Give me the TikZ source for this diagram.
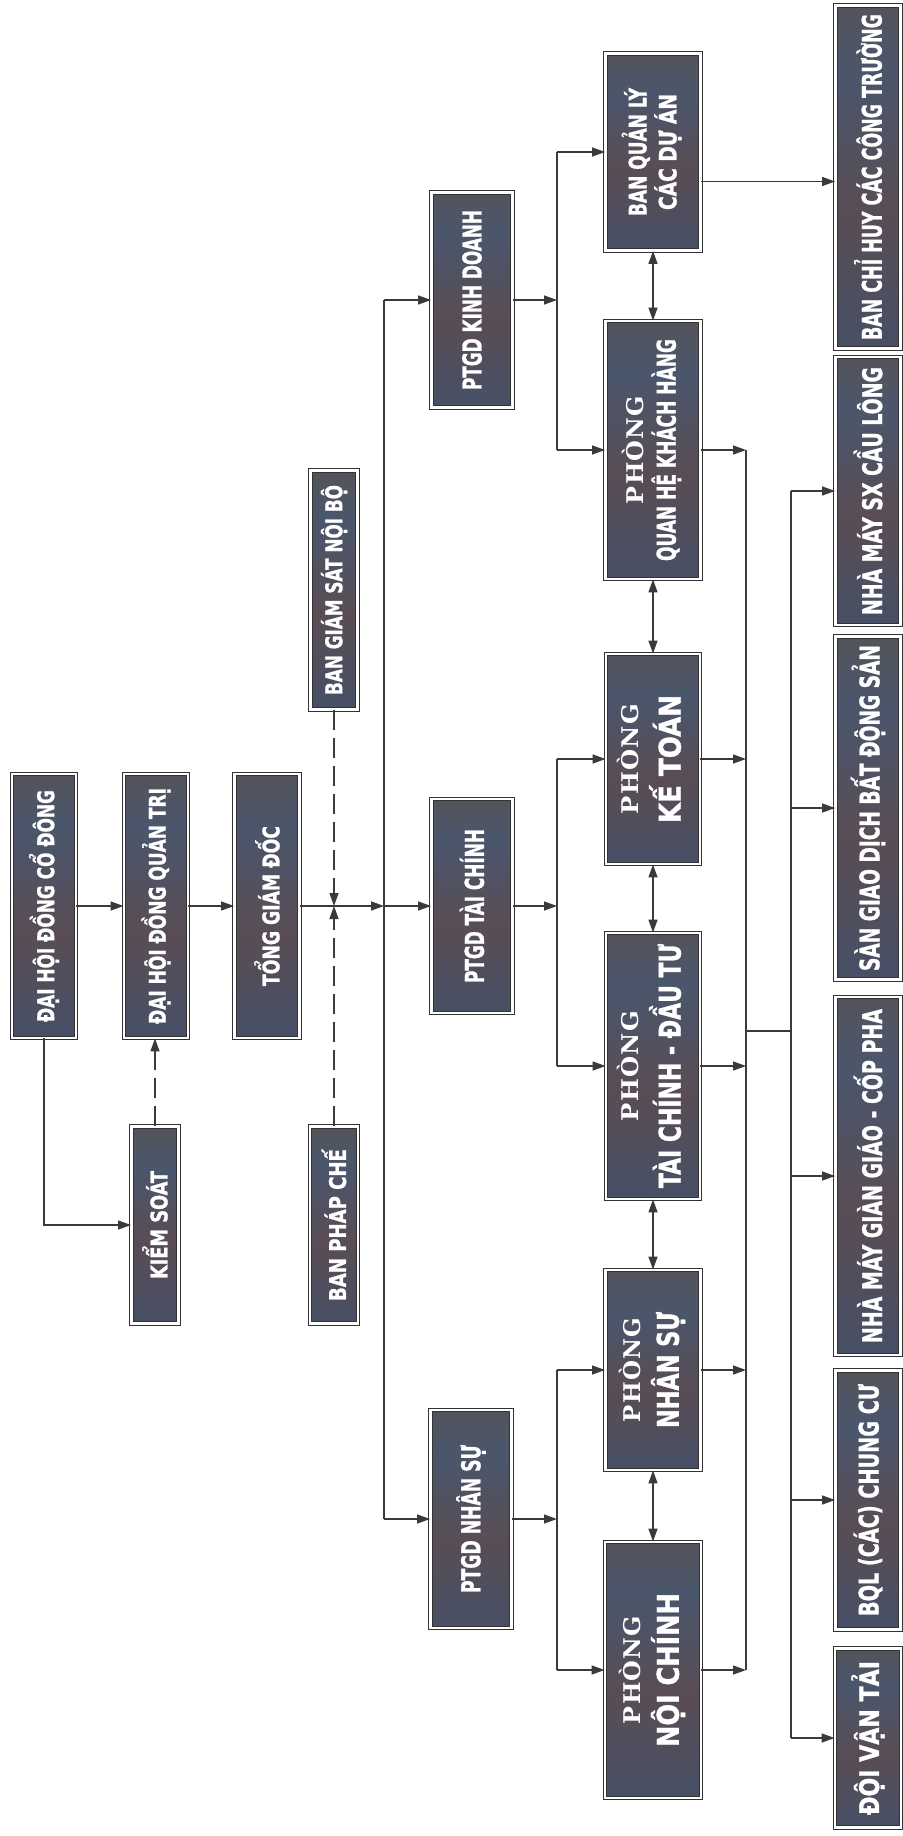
\documentclass[tikz,border=0pt]{standalone}
\usepackage{fontspec}
\usepackage{graphicx}
\usetikzlibrary{arrows.meta}

\newfontfamily\labelfont{DejaVu Sans Condensed Bold}[FakeBold=1.2]
\newfontfamily\phongfont{DejaVu Serif Bold}[LetterSpace=5]

\definecolor{linec}{HTML}{3A3A3A}
\definecolor{shA}{HTML}{5C5249}
\definecolor{shB}{HTML}{4A566C}
\definecolor{shC}{HTML}{594D55}
\definecolor{shD}{HTML}{445068}
\definecolor{shE}{HTML}{594940}
\pgfdeclareverticalshading{boxshade}{100bp}{color(0bp)=(shE); color(22bp)=(shD); color(45bp)=(shC); color(65bp)=(shB); color(85bp)=(shA); color(100bp)=(shC)}

\newcommand{\fit}[2]{\resizebox{#1pt}{\height}{#2}}
\newcommand{\lbl}[2]{\rotatebox{90}{\fit{#1}{#2}}}
\newcommand{\twolbl}[2]{\rotatebox{90}{\begin{tabular}{@{}c@{}}#1\\[0pt]#2\end{tabular}}}
\newcommand{\phong}[1]{{\phongfont\fontsize{11.5}{11.5}\selectfont\fit{#1}{PHÒNG}}}

\begin{document}
\begin{tikzpicture}[
    x=0.5pt, y=-0.5pt,
    box/.style={rectangle, draw=black!80, double=white, double distance=1.3pt, line width=0.45pt,
        shading=boxshade, text=white, inner sep=0pt,
        font=\labelfont\fontsize{11.5}{13}\selectfont},
    ptgd/.style={box, font=\labelfont\fontsize{13}{15}\selectfont},
    unit/.style={box, font=\labelfont\fontsize{13.5}{15}\selectfont},
    phongbox/.style={box, font=\labelfont\fontsize{15}{17}\selectfont},
    arrow/.style={-{Triangle[length=6.5pt, width=4.5pt]}, line width=0.7pt, draw=linec},
    biarrow/.style={arrow, {Triangle[length=6.5pt, width=4.5pt]}-{Triangle[length=6.5pt, width=4.5pt]}},
    dasharrow/.style={arrow, dash pattern=on 10pt off 4pt},
    bus/.style={line width=0.7pt, draw=linec}
]
\useasboundingbox (0,0) rectangle (902,1836);

% top level
\node[box, minimum width=32pt, minimum height=132pt] (codong) at (44,906) {\lbl{116}{ĐẠI HỘI ĐỒNG CỔ ĐÔNG}};
\node[box, minimum width=32pt, minimum height=132pt] (quantri) at (156,906) {\lbl{118}{ĐẠI HỘI ĐỒNG QUẢN TRỊ}};
\node[box, minimum width=32.5pt, minimum height=132pt] (tonggd) at (267,906) {\lbl{80}{TỔNG GIÁM ĐỐC}};
\node[box, minimum width=23.5pt, minimum height=98.5pt] (kiemsoat) at (155,1225) {\lbl{54}{KIỂM SOÁT}};
\node[box, minimum width=24pt, minimum height=98.5pt] (phapche) at (334,1225) {\lbl{76}{BAN PHÁP CHẾ}};
\node[box, minimum width=23.5pt, minimum height=119.5pt] (giamsat) at (334,590) {\lbl{105}{BAN GIÁM SÁT NỘI BỘ}};

% deputies
\node[ptgd, minimum width=40.5pt, minimum height=107.5pt] (ptgdkd) at (472,300) {\lbl{90}{PTGD KINH DOANH}};
\node[ptgd, minimum width=40.5pt, minimum height=107pt] (ptgdtc) at (472,906) {\lbl{77}{PTGD TÀI CHÍNH}};
\node[ptgd, minimum width=40.5pt, minimum height=109pt] (ptgdns) at (471,1519) {\lbl{74}{PTGD NHÂN SỰ}};

% departments
\node[box, font=\labelfont\fontsize{12}{13}\selectfont, minimum width=47.5pt, minimum height=98.5pt] (bqlda) at (653,152) {\twolbl{\fit{64}{BAN QUẢN LÝ}}{\fit{58}{CÁC DỰ ÁN}}};
\node[box, font=\labelfont\fontsize{13}{14}\selectfont, minimum width=47.5pt, minimum height=129pt] (qhkh) at (653,450) {\twolbl{\phong{54}}{\fit{111}{QUAN HỆ KHÁCH HÀNG}}};
\node[phongbox, minimum width=47pt, minimum height=105pt] (ketoan) at (653,759) {\twolbl{\phong{55}}{\fit{64}{KẾ TOÁN}}};
\node[phongbox, minimum width=47pt, minimum height=133pt] (tcdt) at (653,1066) {\twolbl{\phong{55}}{\fit{122}{TÀI CHÍNH - ĐẦU TƯ}}};
\node[phongbox, minimum width=47.5pt, minimum height=100pt] (nhansu) at (653,1370) {\twolbl{\phong{52}}{\fit{58}{NHÂN SỰ}}};
\node[phongbox, minimum width=48pt, minimum height=128pt] (noichinh) at (653,1670) {\twolbl{\phong{54}}{\fit{77}{NỘI CHÍNH}}};

% units
\node[unit, minimum width=32.5pt, minimum height=171.5pt] (bchct) at (868,177) {\lbl{163}{BAN CHỈ HUY CÁC CÔNG TRƯỜNG}};
\node[unit, minimum width=32.5pt, minimum height=134pt] (caulong) at (868,491) {\lbl{124}{NHÀ MÁY SX CẦU LÔNG}};
\node[unit, minimum width=32.5pt, minimum height=171.5pt] (san) at (868,808) {\lbl{163}{SÀN GIAO DỊCH BẤT ĐỘNG SẢN}};
\node[unit, minimum width=32.5pt, minimum height=179pt] (giangiao) at (868,1176) {\lbl{167}{NHÀ MÁY GIÀN GIÁO - CỐP PHA}};
\node[unit, minimum width=32.5pt, minimum height=129.5pt] (bqlcc) at (868,1500) {\lbl{116}{BQL (CÁC) CHUNG CƯ}};
\node[unit, minimum width=33pt, minimum height=89.5pt] (doivantai) at (868,1738) {\lbl{77}{ĐỘI VẬN TẢI}};

\coordinate (busA) at (384,906);
\coordinate (dashj) at (334,906);
\coordinate (midx) at (557,906);
\coordinate (rx1) at (746,1031);
\coordinate (rx2) at (791,1031);

\draw[arrow] (codong) -- (quantri);
\draw[arrow] (quantri) -- (tonggd);
\draw[arrow] (codong.south) |- (kiemsoat);
\draw[dasharrow] (kiemsoat) -- (kiemsoat |- quantri.south);
\draw[arrow] (tonggd) -- (busA);
\draw[dasharrow] (giamsat) -- (dashj);
\draw[dasharrow] (phapche) -- (dashj);

\draw[bus] (ptgdkd -| busA) -- (ptgdns -| busA);
\draw[arrow] (ptgdkd -| busA) -- (ptgdkd);
\draw[arrow] (busA) -- (ptgdtc);
\draw[arrow] (ptgdns -| busA) -- (ptgdns);

\draw[arrow] (ptgdkd) -- (ptgdkd -| midx);
\draw[bus] (bqlda -| midx) -- (qhkh -| midx);
\draw[arrow] (bqlda -| midx) -- (bqlda);
\draw[arrow] (qhkh -| midx) -- (qhkh);
\draw[arrow] (ptgdtc) -- (ptgdtc -| midx);
\draw[bus] (ketoan -| midx) -- (tcdt -| midx);
\draw[arrow] (ketoan -| midx) -- (ketoan);
\draw[arrow] (tcdt -| midx) -- (tcdt);
\draw[arrow] (ptgdns) -- (ptgdns -| midx);
\draw[bus] (nhansu -| midx) -- (noichinh -| midx);
\draw[arrow] (nhansu -| midx) -- (nhansu);
\draw[arrow] (noichinh -| midx) -- (noichinh);

\draw[biarrow] (bqlda) -- (qhkh);
\draw[biarrow] (qhkh) -- (ketoan);
\draw[biarrow] (ketoan) -- (tcdt);
\draw[biarrow] (tcdt) -- (nhansu);
\draw[biarrow] (nhansu) -- (noichinh);

\draw[arrow] ([yshift=-14.75pt]bqlda.east) -- ([yshift=-14.75pt]bqlda.east -| bchct.west);

\draw[arrow] (qhkh) -- (qhkh -| rx1);
\draw[arrow] (ketoan) -- (ketoan -| rx1);
\draw[arrow] (tcdt) -- (tcdt -| rx1);
\draw[arrow] (nhansu) -- (nhansu -| rx1);
\draw[arrow] (noichinh) -- (noichinh -| rx1);
\draw[bus] (qhkh -| rx1) -- (noichinh -| rx1);
\draw[bus] (rx1) -- (rx2);
\draw[bus] (caulong -| rx2) -- (doivantai -| rx2);
\draw[arrow] (caulong -| rx2) -- (caulong);
\draw[arrow] (san -| rx2) -- (san);
\draw[arrow] (giangiao -| rx2) -- (giangiao);
\draw[arrow] (bqlcc -| rx2) -- (bqlcc);
\draw[arrow] (doivantai -| rx2) -- (doivantai);
\end{tikzpicture}
\end{document}
